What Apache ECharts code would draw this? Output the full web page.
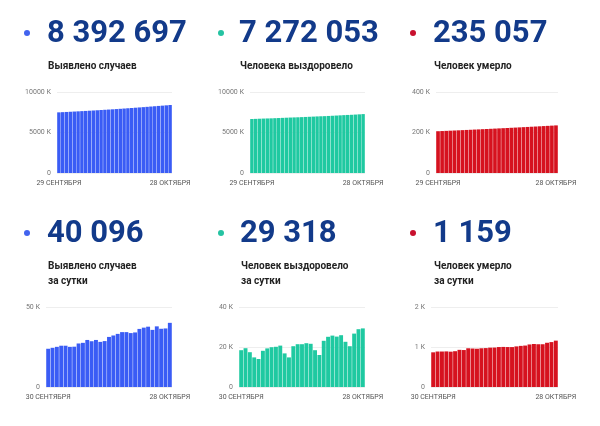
<!DOCTYPE html>
<html>
<head>
    <meta charset="utf-8">
    <title>Коронавирус в России</title>
    <script src="https://cdn.jsdelivr.net/npm/echarts@6/dist/echarts.min.js"></script>
    <style>
        html, body { margin: 0; padding: 0; background: #fff; }
        #main { width: 600px; height: 426px; }
    </style>
</head>
<body>
<div id="main"></div>
<script>
    // даты (накопительные графики — с 29 сентября, суточные — с 30 сентября)
    var daysTotal = ['29 СЕНТЯБРЯ','30 СЕНТЯБРЯ','1 ОКТЯБРЯ','2 ОКТЯБРЯ','3 ОКТЯБРЯ','4 ОКТЯБРЯ','5 ОКТЯБРЯ','6 ОКТЯБРЯ','7 ОКТЯБРЯ','8 ОКТЯБРЯ',
        '9 ОКТЯБРЯ','10 ОКТЯБРЯ','11 ОКТЯБРЯ','12 ОКТЯБРЯ','13 ОКТЯБРЯ','14 ОКТЯБРЯ','15 ОКТЯБРЯ','16 ОКТЯБРЯ','17 ОКТЯБРЯ','18 ОКТЯБРЯ',
        '19 ОКТЯБРЯ','20 ОКТЯБРЯ','21 ОКТЯБРЯ','22 ОКТЯБРЯ','23 ОКТЯБРЯ','24 ОКТЯБРЯ','25 ОКТЯБРЯ','26 ОКТЯБРЯ','27 ОКТЯБРЯ','28 ОКТЯБРЯ'];
    var daysDaily = ['30 СЕНТЯБРЯ','1 ОКТЯБРЯ','2 ОКТЯБРЯ','3 ОКТЯБРЯ','4 ОКТЯБРЯ','5 ОКТЯБРЯ','6 ОКТЯБРЯ','7 ОКТЯБРЯ','8 ОКТЯБРЯ',
        '9 ОКТЯБРЯ','10 ОКТЯБРЯ','11 ОКТЯБРЯ','12 ОКТЯБРЯ','13 ОКТЯБРЯ','14 ОКТЯБРЯ','15 ОКТЯБРЯ','16 ОКТЯБРЯ','17 ОКТЯБРЯ','18 ОКТЯБРЯ',
        '19 ОКТЯБРЯ','20 ОКТЯБРЯ','21 ОКТЯБРЯ','22 ОКТЯБРЯ','23 ОКТЯБРЯ','24 ОКТЯБРЯ','25 ОКТЯБРЯ','26 ОКТЯБРЯ','27 ОКТЯБРЯ','28 ОКТЯБРЯ'];

    // накопительные значения, тыс.
    var casesTotal = [7488,7512,7536,7561,7587,7613,7638,7663,7690,7718,7747,7776,7805,7833,7862,
        7893,7925,7959,7993,8027,8061,8095,8131,8168,8206,8242,8280,8316,8353,8393];
    var recoveredTotal = [6664,6683,6702,6720,6734,6748,6767,6786,6806,6826,6847,6863,6878,6899,6920,
        6941,6963,6985,7003,7019,7042,7067,7093,7118,7144,7167,7187,7214,7243,7272];
    var deathsTotal = [206.4,207.2,208.1,209.0,209.9,210.8,211.7,212.6,213.5,214.5,215.4,216.4,217.4,218.3,219.3,
        220.3,221.3,222.3,223.3,224.3,225.3,226.4,227.4,228.5,229.5,230.6,231.7,232.8,233.9,235.1];

    // суточные значения, тыс.
    var casesDaily = [23.9,24.5,25.1,25.8,25.8,25.1,25.2,27.2,27.6,29.4,28.6,29.4,28.2,28.7,31.3,
        32.2,33.2,34.3,34.3,33.7,34.1,36.3,37.1,37.7,35.7,37.9,36.4,36.6,40.1];
    var recoveredDaily = [18.4,19.4,17.4,14.8,14.0,18.1,19.3,19.9,20.1,20.7,16.8,14.8,20.4,21.4,21.4,
        21.9,21.6,18.4,16.0,23.1,25.1,25.7,25.2,25.9,22.6,20.4,26.7,28.9,29.3];
    var deathsDaily = [0.867,0.887,0.887,0.890,0.883,0.895,0.929,0.924,0.968,0.962,0.957,0.968,0.973,0.984,0.986,
        0.999,1.002,0.999,0.998,1.015,1.028,1.036,1.064,1.075,1.069,1.069,1.106,1.123,1.159];

    // подписи
    var bigNumbers = ['8 392 697','7 272 053','235 057','40 096','29 318','1 159'];
    var captions = ['Выявлено случаев','Человека выздоровело','Человек умерло',
        'Выявлено случаев\nза сутки','Человек выздоровело\nза сутки','Человек умерло\nза сутки'];
    var yMax = [10000, 10000, 400, 50, 40, 2];
    var yStep = [5000, 5000, 200, 50, 20, 1];

    var BLUE = '#3a5cf5', TEAL = '#1fc9a1', RED = '#d6121f', NAVY = '#123a8a';
    var colors = [BLUE, TEAL, RED, BLUE, TEAL, RED];
    var dotColors = ['#4263ee', '#25c3a2', '#c8102e', '#4263ee', '#25c3a2', '#c8102e'];

    var seriesData = [casesTotal, recoveredTotal, deathsTotal, casesDaily, recoveredDaily, deathsDaily];
    var cats = [daysTotal, daysTotal, daysTotal, daysDaily, daysDaily, daysDaily];

    // раскладка панелей
    var grids = [
        {left: 57, top: 92, width: 115, height: 81},
        {left: 250, top: 92, width: 115, height: 81},
        {left: 436, top: 92, width: 122, height: 81},
        {left: 46, top: 307, width: 126, height: 80},
        {left: 239, top: 307, width: 126, height: 80},
        {left: 431, top: 307, width: 127, height: 80}
    ];
    var textX = [47, 239, 433, 47, 240, 433];
    var dotX = [27, 221, 413, 27, 221, 413];
    var rowY = [33, 33, 33, 233, 233, 233];
    var captionY = [59, 59, 59, 259, 259, 259];

    var chart = echarts.init(document.getElementById('main'));

    var titles = [], xAxes = [], yAxes = [], series = [], graphics = [];
    for (var i = 0; i < 6; i++) {
        titles.push({
            text: bigNumbers[i],
            left: textX[i],
            top: rowY[i] - 14,
            padding: 0,
            textStyle: {fontFamily: 'Roboto', fontSize: 31, fontWeight: 'bold', color: NAVY}
        });
        titles.push({
            text: captions[i],
            left: textX[i] + 1,
            top: captionY[i],
            padding: 0,
            textStyle: {fontFamily: 'Roboto', fontSize: 10, fontWeight: 'bold', color: '#222', lineHeight: 15}
        });
        graphics.push({
            type: 'circle',
            shape: {cx: dotX[i], cy: rowY[i], r: 3},
            style: {fill: dotColors[i]}
        });
        (function (n) {
            xAxes.push({
                type: 'category',
                gridIndex: i,
                data: cats[i],
                axisLine: {show: false},
                axisTick: {show: false},
                axisLabel: {
                    interval: function (idx) { return idx === 0 || idx === n - 1; },
                    fontFamily: 'Roboto',
                    fontSize: 7,
                    color: '#555',
                    margin: 7
                }
            });
        })(cats[i].length);
        yAxes.push({
            type: 'value',
            gridIndex: i,
            min: 0,
            max: yMax[i],
            interval: yStep[i],
            axisLine: {show: false},
            axisTick: {show: false},
            splitLine: {lineStyle: {color: '#eeeeee', width: 1}},
            axisLabel: {
                fontFamily: 'Roboto',
                fontSize: 7,
                color: '#777',
                margin: 6,
                formatter: function (v) { return v === 0 ? '0' : v + ' К'; }
            }
        });
        series.push({
            type: 'bar',
            xAxisIndex: i,
            yAxisIndex: i,
            data: seriesData[i],
            barCategoryGap: '10%',
            itemStyle: {color: colors[i]},
            silent: true
        });
    }

    chart.setOption({
        animation: false,
        title: titles,
        grid: grids,
        xAxis: xAxes,
        yAxis: yAxes,
        series: series,
        graphic: graphics
    });
</script>
</body>
</html>
